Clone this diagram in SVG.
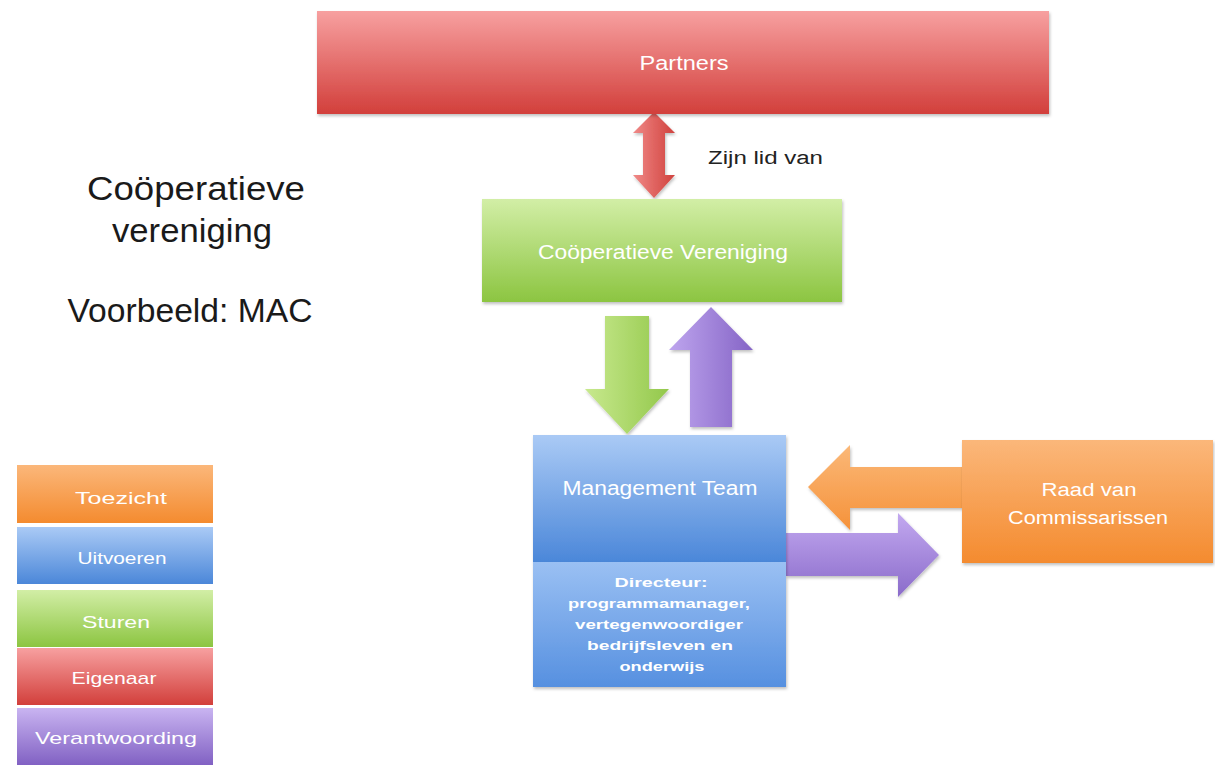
<svg xmlns="http://www.w3.org/2000/svg" width="1215" height="767" viewBox="0 0 1215 767">
<style>
.lbl{font-family:"Liberation Sans",Arial,sans-serif;fill:#ffffff;text-anchor:middle}
.big{font-family:"Liberation Sans",Arial,sans-serif;fill:#1a1a1a;text-anchor:middle;font-size:33px}
.small{font-family:"Liberation Sans",Arial,sans-serif;fill:#ffffff;text-anchor:middle;font-size:13.5px;font-weight:bold}
</style>
<defs>
<linearGradient id="gRed" x1="0" y1="0" x2="0" y2="1"><stop offset="0" stop-color="#f7a0a0"/><stop offset="1" stop-color="#d23f3b"/></linearGradient>
<linearGradient id="gGreen" x1="0" y1="0" x2="0" y2="1"><stop offset="0" stop-color="#d2eea6"/><stop offset="1" stop-color="#8cc541"/></linearGradient>
<linearGradient id="gBlue1" x1="0" y1="0" x2="0" y2="1"><stop offset="0" stop-color="#aacaf5"/><stop offset="1" stop-color="#4b87d9"/></linearGradient>
<linearGradient id="gBlue2" x1="0" y1="0" x2="0" y2="1"><stop offset="0" stop-color="#9ac0f3"/><stop offset="1" stop-color="#5690e0"/></linearGradient>
<linearGradient id="gOrange" x1="0" y1="0" x2="0" y2="1"><stop offset="0" stop-color="#fbb77a"/><stop offset="1" stop-color="#f48b2f"/></linearGradient>
<linearGradient id="gPurple" x1="0" y1="0" x2="0" y2="1"><stop offset="0" stop-color="#c9b4f1"/><stop offset="1" stop-color="#8161c3"/></linearGradient>
<linearGradient id="gGreenH" x1="0" y1="0" x2="1" y2="0"><stop offset="0" stop-color="#c8e98e"/><stop offset="1" stop-color="#93c84b"/></linearGradient>
<linearGradient id="gPurpleH" x1="0" y1="0" x2="1" y2="0"><stop offset="0" stop-color="#bea5ee"/><stop offset="1" stop-color="#8564c6"/></linearGradient>
<linearGradient id="gPurpleV" x1="0" y1="0" x2="0" y2="1"><stop offset="0" stop-color="#c3a9f0"/><stop offset="1" stop-color="#8a6bca"/></linearGradient>
<linearGradient id="gOrangeV" x1="0" y1="0" x2="0" y2="1"><stop offset="0" stop-color="#fbb878"/><stop offset="1" stop-color="#f5923a"/></linearGradient>
<linearGradient id="gRedH" x1="0" y1="0" x2="1" y2="0"><stop offset="0" stop-color="#f08a88"/><stop offset="0.5" stop-color="#e06461"/><stop offset="1" stop-color="#d0423e"/></linearGradient>
<filter id="sh" x="-5%" y="-5%" width="110%" height="115%"><feDropShadow dx="1" dy="2" stdDeviation="1.5" flood-color="#000" flood-opacity="0.25"/></filter>
</defs>

<g id="title">
<text class="big" x="196" y="200" textLength="218" lengthAdjust="spacingAndGlyphs">Coöperatieve</text>
<text class="big" x="192" y="242" textLength="160" lengthAdjust="spacingAndGlyphs">vereniging</text>
<text class="big" x="190" y="322" textLength="245" lengthAdjust="spacingAndGlyphs">Voorbeeld: MAC</text>
</g>

<g id="connectors">
<path id="arrow-lid" d="M654,112 L675,133 L665,133 L665,175 L675,175 L654,198 L633,175 L643,175 L643,133 L633,133 Z" fill="url(#gRedH)" filter="url(#sh)"/>
<text x="708" y="164" font-family="Liberation Sans,Arial,sans-serif" font-size="18" fill="#222" textLength="115" lengthAdjust="spacingAndGlyphs">Zijn lid van</text>
<path id="arrow-sturen" d="M605,316 L649,316 L649,389 L669,389 L627,434 L585,389 L605,389 Z" fill="url(#gGreenH)" filter="url(#sh)"/>
<path id="arrow-verantw-up" d="M690,427 L690,350 L669,350 L711,307 L753,350 L732,350 L732,427 Z" fill="url(#gPurpleH)" filter="url(#sh)"/>
<path id="arrow-toezicht" d="M964,467 L850,467 L850,445 L808,487 L850,530 L850,508 L964,508 Z" fill="url(#gOrangeV)" filter="url(#sh)"/>
<path id="arrow-verantw-right" d="M786,533 L898,533 L898,513 L939,555 L898,597 L898,576 L786,576 Z" fill="url(#gPurpleV)" filter="url(#sh)"/>
</g>

<g id="partners">
<rect x="317" y="11" width="732" height="103" fill="url(#gRed)" filter="url(#sh)"/>
<text class="lbl" x="684" y="70" font-size="20" textLength="89" lengthAdjust="spacingAndGlyphs">Partners</text>
</g>

<g id="cooperatieve-vereniging">
<rect x="482" y="199" width="360" height="103" fill="url(#gGreen)" filter="url(#sh)"/>
<text class="lbl" x="663" y="259" font-size="20" textLength="250" lengthAdjust="spacingAndGlyphs">Coöperatieve Vereniging</text>
</g>

<g id="management-team">
<rect x="533" y="435" width="253" height="127" fill="url(#gBlue1)" filter="url(#sh)"/>
<rect x="533" y="562" width="253" height="125" fill="url(#gBlue2)" filter="url(#sh)"/>
<text class="lbl" x="660" y="495" font-size="20" textLength="195" lengthAdjust="spacingAndGlyphs">Management Team</text>
<text class="small" x="661" y="587" textLength="93" lengthAdjust="spacingAndGlyphs">Directeur:</text>
<text class="small" x="659" y="608" textLength="182" lengthAdjust="spacingAndGlyphs">programmamanager,</text>
<text class="small" x="659" y="629" textLength="168" lengthAdjust="spacingAndGlyphs">vertegenwoordiger</text>
<text class="small" x="660" y="650" textLength="146" lengthAdjust="spacingAndGlyphs">bedrijfsleven en</text>
<text class="small" x="662" y="671" textLength="85" lengthAdjust="spacingAndGlyphs">onderwijs</text>
</g>

<g id="raad-van-commissarissen">
<rect x="962" y="440" width="251" height="123" fill="url(#gOrange)" filter="url(#sh)"/>
<text class="lbl" x="1089" y="496" font-size="18" textLength="95" lengthAdjust="spacingAndGlyphs">Raad van</text>
<text class="lbl" x="1088" y="524" font-size="18" textLength="160" lengthAdjust="spacingAndGlyphs">Commissarissen</text>
</g>

<g id="legend">
<g id="legend-toezicht"><rect x="17" y="465" width="196" height="58" fill="url(#gOrange)"/><text class="lbl" x="121" y="504" font-size="17" textLength="92" lengthAdjust="spacingAndGlyphs">Toezicht</text></g>
<g id="legend-uitvoeren"><rect x="17" y="527" width="196" height="57" fill="url(#gBlue1)"/><text class="lbl" x="122" y="564" font-size="17" textLength="89" lengthAdjust="spacingAndGlyphs">Uitvoeren</text></g>
<g id="legend-sturen"><rect x="17" y="590" width="196" height="57" fill="url(#gGreen)"/><text class="lbl" x="116" y="628" font-size="17" textLength="68" lengthAdjust="spacingAndGlyphs">Sturen</text></g>
<g id="legend-eigenaar"><rect x="17" y="648" width="196" height="57" fill="url(#gRed)"/><text class="lbl" x="114" y="684" font-size="17" textLength="85" lengthAdjust="spacingAndGlyphs">Eigenaar</text></g>
<g id="legend-verantwoording"><rect x="17" y="708" width="196" height="57" fill="url(#gPurple)"/><text class="lbl" x="116" y="744" font-size="17" textLength="162" lengthAdjust="spacingAndGlyphs">Verantwoording</text></g>
</g>
</svg>
